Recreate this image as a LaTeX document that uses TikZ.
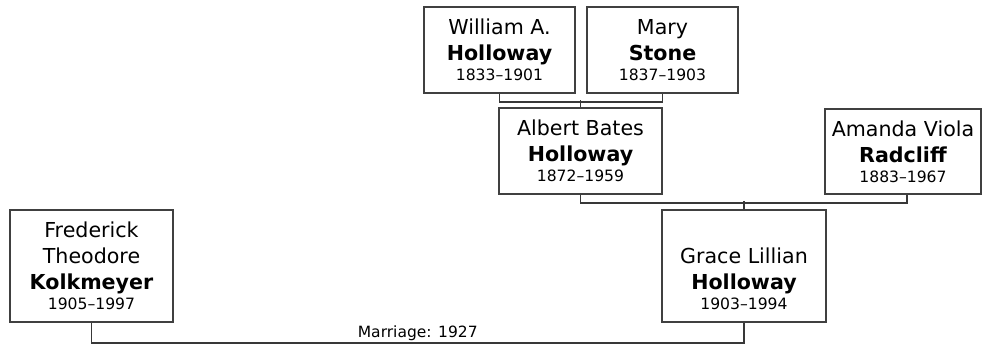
\documentclass[tikz,border=0pt]{standalone}
\usepackage{fontspec}
\setmainfont{DejaVu Sans}
\usetikzlibrary{calc}
\newcommand\lifespan[1]{{\fontsize{15.6}{20}\selectfont #1}}
\tikzset{
  person/.style={draw=black!75, line width=1.5pt, rectangle, align=center,
    inner sep=0pt, minimum height=86pt, fill=white,
    font=\fontsize{20.6}{26}\selectfont},
  tallperson/.style={person, minimum height=112pt},
  conn/.style={draw=black!78, line width=1.6pt},
  marlabel/.style={font=\fontsize{15.5}{18}\selectfont, anchor=base, inner sep=0pt, yshift=5pt}
}
\begin{document}
\begin{tikzpicture}[x=1pt, y=-1pt]
\useasboundingbox (0,0) rectangle (983,343);
\node[person, minimum width=151pt] (william) at (499.5,50) {William A.\\\textbf{Holloway}\\[-6pt]\lifespan{1833–1901}};
\node[person, minimum width=151pt] (mary) at (662.5,50) {Mary\\\textbf{Stone}\\[-6pt]\lifespan{1837–1903}};
\node[person, minimum width=163pt] (albert) at (580.5,151) {Albert Bates\\\textbf{Holloway}\\[-6pt]\lifespan{1872–1959}};
\node[person, minimum width=156pt, minimum height=85pt] (amanda) at (903,151.5) {Amanda Viola\\\textbf{Radcliff}\\[-6pt]\lifespan{1883–1967}};
\node[tallperson, minimum width=164pt] (grace) at (744,266) {\vphantom{F}\\Grace Lillian\\\textbf{Holloway}\\[-6pt]\lifespan{1903–1994}};
\node[tallperson, minimum width=163pt] (fred) at (91.5,266) {Frederick\\Theodore\\\textbf{Kolkmeyer}\\[-6pt]\lifespan{1905–1997}};
\draw[conn] (william.south) -- ++(0,8) -| (mary.south);
\draw[conn] (albert.north) -- ++(0,-7);
\draw[conn] (albert.south) -- ++(0,8) -| ($(amanda.south)+(4,0)$);
\draw[conn] (grace.north) -- ++(0,-8);
\draw[conn] (grace.south) -- ++(0,20) -| node[marlabel, pos=0.25] (marriage) {Marriage: 1927} (fred.south);
\end{tikzpicture}
\end{document}
